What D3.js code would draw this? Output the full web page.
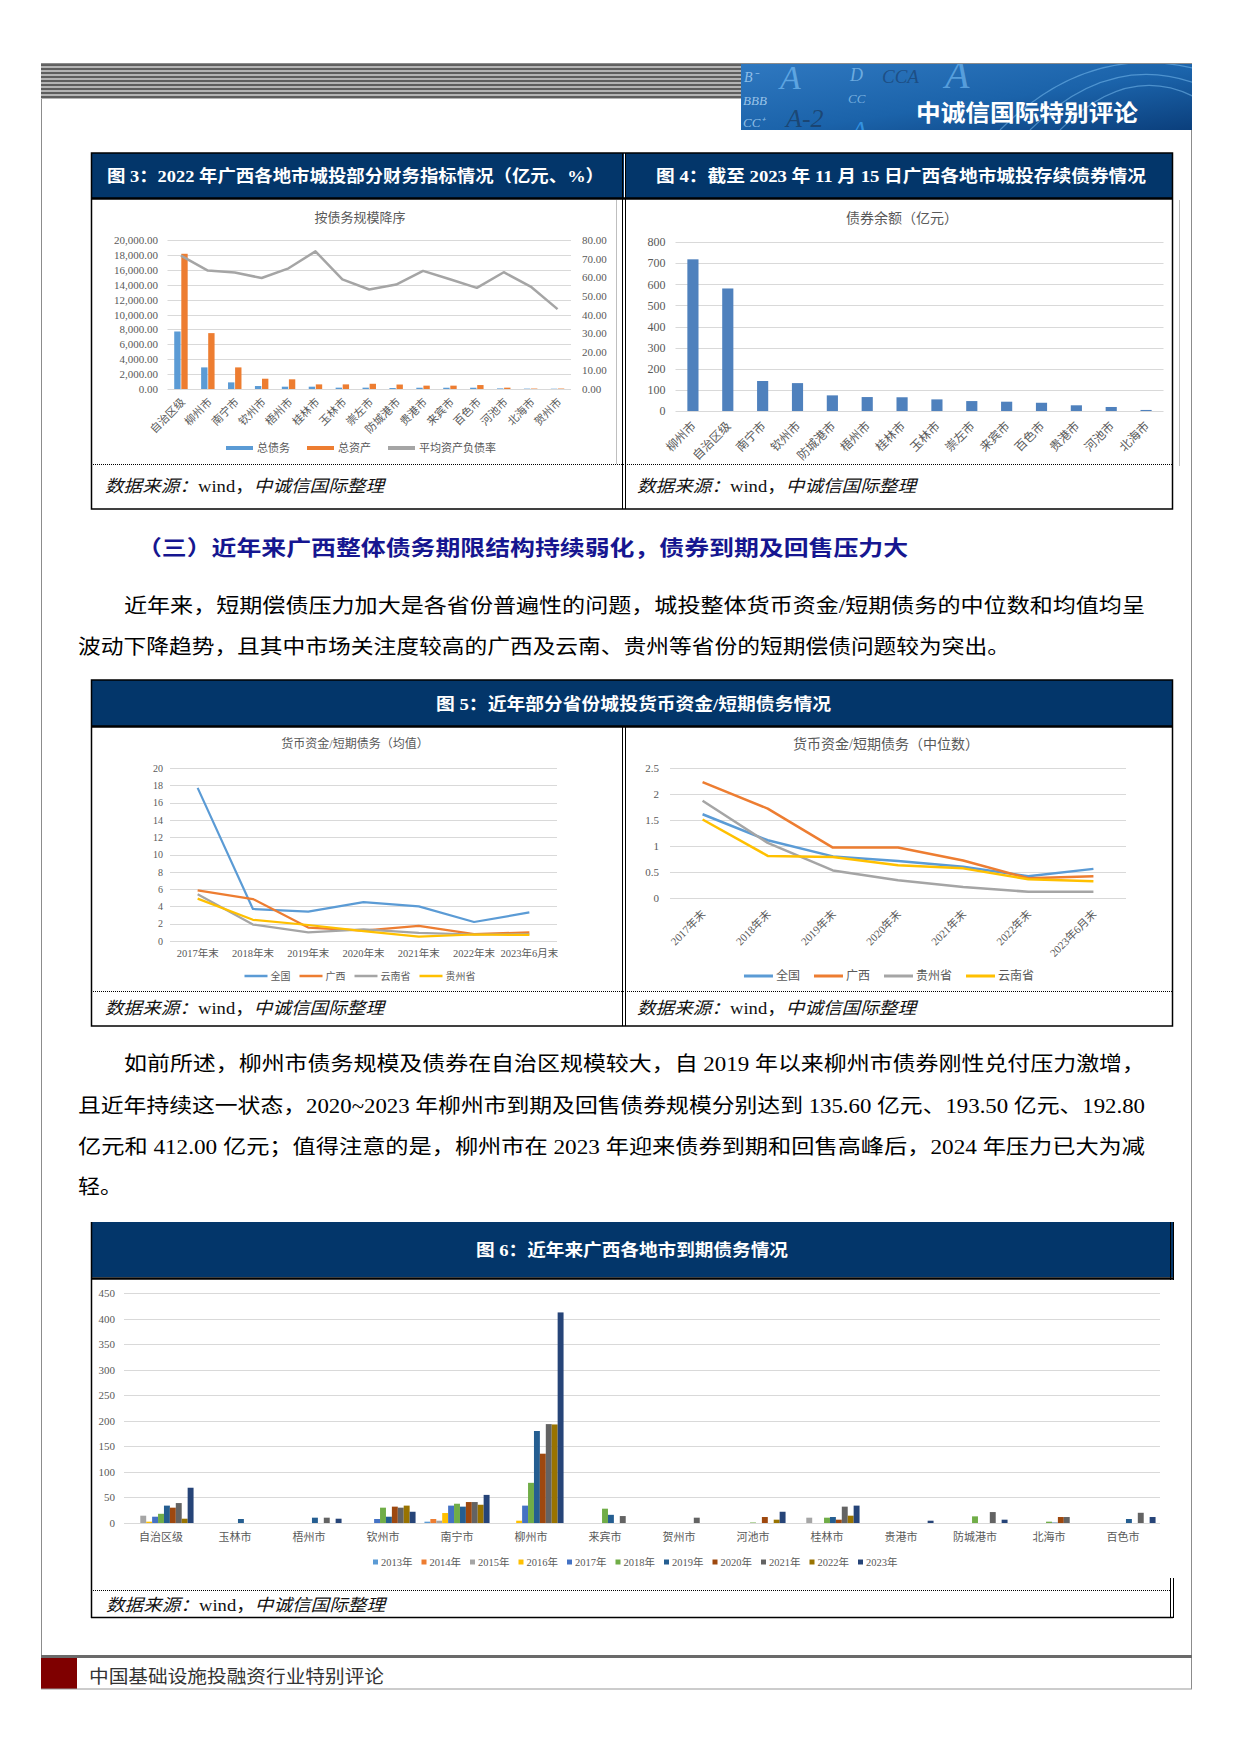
<!DOCTYPE html>
<html><head><meta charset="utf-8">
<script src="https://cdn.jsdelivr.net/npm/d3@7"></script>
<style>html,body{margin:0;padding:0;background:#fff}svg{display:block}</style>
</head><body>
<svg id="page" width="1240" height="1754" xmlns="http://www.w3.org/2000/svg"></svg>
<script>
// ---------------- DATA ----------------
// Fig 3: 2022 financial indicators by city (亿元, %)
const fig3Cities = ['自治区级','柳州市','南宁市','钦州市','梧州市','桂林市','玉林市','崇左市','防城港市','贵港市','来宾市','百色市','河池市','北海市','贺州市'];
const fig3Debt   = [7720, 2900, 890, 400, 310, 310, 180, 180, 130, 170, 170, 170, 80, 50, 40];
const fig3Assets = [18150, 7500, 2900, 1380, 1300, 620, 620, 700, 600, 450, 450, 530, 180, 60, 60];
const fig3Ratio  = [71.6, 63.6, 62.5, 59.6, 64.8, 73.9, 58.9, 53.4, 56.1, 63.4, 58.9, 54.3, 62.7, 55.0, 42.9];
const fig3LeftTicks  = [0,2000,4000,6000,8000,10000,12000,14000,16000,18000,20000];
const fig3RightTicks = [0,10,20,30,40,50,60,70,80];
const fig3Legend = ['总债务','总资产','平均资产负债率'];

// Fig 4: outstanding bonds (亿元)
const fig4Cities = ['柳州市','自治区级','南宁市','钦州市','防城港市','梧州市','桂林市','玉林市','崇左市','来宾市','百色市','贵港市','河池市','北海市'];
const fig4Bonds  = [718, 580, 142, 132, 74, 66, 65, 55, 47, 44, 39, 27, 19, 5];
const fig4Ticks  = [0,100,200,300,400,500,600,700,800];

// Fig 5: cash / short-term debt
const fig5Periods = ['2017年末','2018年末','2019年末','2020年末','2021年末','2022年末','2023年6月末'];
const meanNational = [17.7, 3.7, 3.4, 4.5, 4.0, 2.2, 3.3];
const meanGuangxi  = [5.85, 4.85, 1.55, 1.2, 1.75, 0.8, 1.0];
const meanYunnan   = [5.4, 1.9, 1.0, 1.35, 0.95, 0.75, 0.8];
const meanGuizhou  = [4.9, 2.45, 1.85, 1.15, 0.5, 0.75, 0.7];
const meanTicks = [0,2,4,6,8,10,12,14,16,18,20];
const medianNational = [1.61, 1.11, 0.80, 0.71, 0.60, 0.42, 0.56];
const medianGuangxi  = [2.23, 1.72, 0.97, 0.97, 0.72, 0.38, 0.42];
const medianGuizhou  = [1.87, 1.06, 0.53, 0.34, 0.21, 0.12, 0.12];
const medianYunnan   = [1.51, 0.81, 0.79, 0.63, 0.57, 0.36, 0.32];
const medianTicks = [0,0.5,1,1.5,2,2.5];

// Fig 6: maturing debt by city and year (亿元)
const fig6Cities = ['自治区级','玉林市','梧州市','钦州市','南宁市','柳州市','来宾市','贺州市','河池市','桂林市','贵港市','防城港市','北海市','百色市'];
const fig6Years  = ['2013年','2014年','2015年','2016年','2017年','2018年','2019年','2020年','2021年','2022年','2023年'];
const due2013 = [0, 0, 0, 0, 2.6, 0, 0, 0, 0, 0, 0, 0, 0, 0];
const due2014 = [0, 0, 0, 0, 7.8, 0, 0, 0, 0, 0, 0, 0, 0, 0];
const due2015 = [14.3, 0, 0, 0, 4.5, 0, 0, 0, 0, 10.4, 0, 0, 0, 0];
const due2016 = [2.6, 0, 0, 0, 19.5, 4.5, 0, 0, 0, 0, 0, 0, 0, 0];
const due2017 = [12.3, 0, 0, 7.8, 34, 34, 0, 0, 0, 0, 0, 0, 0, 0];
const due2018 = [18, 0, 0, 30, 37.7, 78.6, 28, 0, 1, 10.4, 0, 13, 2.6, 0];
const due2019 = [34, 7.8, 10.4, 12.3, 32, 180, 16, 0, 0, 11.7, 0, 0, 0.8, 7.8];
const due2020 = [30, 0, 0, 32, 41, 135.6, 0, 0, 11.7, 6.5, 0, 0, 11.7, 0];
const due2021 = [39, 0, 10.4, 30, 41, 193.5, 13.6, 10.4, 0, 32, 0, 21.4, 11.7, 20];
const due2022 = [8.4, 0, 0, 34, 35.7, 192.8, 0, 0, 6.5, 14.3, 0, 0, 0, 0];
const due2023 = [69, 0, 8.4, 22, 55, 412, 0, 0, 22, 34, 4.5, 6.5, 0, 11.7];
const fig6Ticks = [0,50,100,150,200,250,300,350,400,450];

// ---------------- STYLE ----------------
const NAVY = '#03366a';
const SERIF = "'Liberation Serif','Noto Sans CJK SC',serif";
const SANS = "'Noto Sans CJK SC','Liberation Sans',sans-serif";
const LABEL = '#595959';
const GRID = '#d9d9d9';
const C = {blue:'#5b9bd5', orange:'#ed7d31', gray:'#a5a5a5', yellow:'#ffc000'};
const fig6Colors = ['#5b9bd5','#ed7d31','#a5a5a5','#ffc000','#4472c4','#70ad47','#255e91','#9e480e','#636363','#997300','#264478'];

const svg = d3.select('#page');
const defs = svg.append('defs');

// ---------------- PAGE FRAME & HEADER ----------------
const frame = svg.append('g');
frame.append('line').attr('x1',41.5).attr('x2',41.5).attr('y1',64).attr('y2',1689).attr('stroke','#8c8c8c');
frame.append('line').attr('x1',1191.5).attr('x2',1191.5).attr('y1',64).attr('y2',1689).attr('stroke','#8c8c8c');
frame.append('rect').attr('x',41).attr('y',64).attr('width',700).attr('height',35).attr('fill','#b4b4b4');
frame.selectAll('rect.stripe').data(d3.range(64, 99, 4)).join('rect')
  .attr('x',41).attr('y',d=>d).attr('width',700).attr('height',2).attr('fill','#5e5e5e');
frame.append('line').attr('x1',41).attr('x2',1192).attr('y1',64).attr('y2',64).attr('stroke','#666').attr('stroke-width',1.5);

const hg = defs.append('linearGradient').attr('id','hg').attr('x1','0').attr('y1','0').attr('x2','1').attr('y2','1');
hg.append('stop').attr('offset','0').attr('stop-color','#2f78c0');
hg.append('stop').attr('offset','0.55').attr('stop-color','#1b63aa');
hg.append('stop').attr('offset','1').attr('stop-color','#0b3f7c');
defs.append('clipPath').attr('id','hclip').append('rect').attr('x',741).attr('y',64).attr('width',451).attr('height',66);
const hdr = svg.append('g').attr('clip-path','url(#hclip)');
hdr.append('rect').attr('x',741).attr('y',64).attr('width',451).attr('height',66).attr('fill','url(#hg)');
hdr.selectAll('path.arc').data([0,1,2]).join('path')
  .attr('d',d=>`M ${1000+d*30} 130 Q ${1090+d*20} ${40+d*10} ${1200} ${70+d*15}`)
  .attr('fill','none').attr('stroke','#8fd0ff').attr('stroke-opacity',0.45).attr('stroke-width',1.2);
const hdrGlyphs = [
  {t:'B⁻', x:744, y:82, s:14, c:'#a9d3f5', o:0.8},
  {t:'A', x:780, y:89, s:34, c:'#6fb6ef', o:0.75},
  {t:'D', x:850, y:81, s:18, c:'#8cc6f2', o:0.7},
  {t:'CCA', x:882, y:83, s:19, c:'#17355c', o:0.55},
  {t:'A', x:945, y:88, s:40, c:'#6fb6ef', o:0.7},
  {t:'BBB', x:743, y:105, s:13, c:'#b9dcf7', o:0.8},
  {t:'CC', x:848, y:103, s:13, c:'#9ccdf3', o:0.7},
  {t:'A-2', x:786, y:127, s:26, c:'#1a2c44', o:0.55},
  {t:'CC⁺', x:743, y:127, s:13, c:'#a9d3f5', o:0.8},
  {t:'A', x:852, y:137, s:24, c:'#3aa0f0', o:0.8}
];
hdr.selectAll('text.g').data(hdrGlyphs).join('text')
  .attr('x',d=>d.x).attr('y',d=>d.y).text(d=>d.t)
  .attr('font-family',SERIF).attr('font-style','italic').attr('font-size',d=>d.s)
  .attr('fill',d=>d.c).attr('fill-opacity',d=>d.o);
hdr.append('text').attr('x',916).attr('y',121).text('中诚信国际特别评论')
  .attr('font-family',SANS).attr('font-weight',700).attr('font-size',23).attr('fill','#fff')
  .attr('textLength',222).attr('lengthAdjust','spacingAndGlyphs');

// ---------------- HELPERS ----------------
function titleBar(x, y, w, h, text, tx, tl) {
  svg.append('rect').attr('x',x).attr('y',y).attr('width',w).attr('height',h).attr('fill',NAVY);
  svg.append('text').attr('x',tx).attr('y',y+h/2+1).text(text)
    .attr('dominant-baseline','central').attr('font-family',SERIF).attr('font-weight',700)
    .attr('font-size',17).attr('fill','#fff').attr('textLength',tl).attr('lengthAdjust','spacingAndGlyphs');
}
function sourceText(x, y) {
  const t = svg.append('text').attr('x',x).attr('y',y).attr('dominant-baseline','central')
    .attr('font-family',SERIF).attr('font-size',17).attr('fill','#111')
    .attr('textLength',279).attr('lengthAdjust','spacingAndGlyphs');
  t.append('tspan').attr('font-style','italic').text('数据来源：');
  t.append('tspan').text('wind，');
  t.append('tspan').attr('font-style','italic').text('中诚信国际整理');
}
function hline(x1, x2, y, opts={}) {
  return svg.append('line').attr('x1',x1).attr('x2',x2).attr('y1',y).attr('y2',y)
    .attr('stroke',opts.c||'#000').attr('stroke-width',opts.w||1).attr('stroke-dasharray',opts.d||null);
}
function vline(x, y1, y2, opts={}) {
  return svg.append('line').attr('x1',x).attr('x2',x).attr('y1',y1).attr('y2',y2)
    .attr('stroke',opts.c||'#000').attr('stroke-width',opts.w||1);
}
function grid(g, y, ticks, x0, x1) {
  g.append('g').selectAll('line').data(ticks).join('line')
    .attr('x1',x0).attr('x2',x1).attr('y1',d=>Math.round(y(d))+0.5).attr('y2',d=>Math.round(y(d))+0.5)
    .attr('stroke',GRID).attr('stroke-width',1);
}
function yAxis(g, y, ticks, x, pad, size, fmt, right) {
  const ax = (right ? d3.axisRight(y) : d3.axisLeft(y)).tickValues(ticks).tickSize(0).tickPadding(pad).tickFormat(fmt);
  const a = g.append('g').attr('transform',`translate(${x},0)`).call(ax);
  a.select('.domain').remove();
  a.selectAll('text').attr('font-family',SERIF).attr('font-size',size).attr('fill',LABEL);
}
function chartTitle(g, x, y, text, size) {
  g.append('text').attr('x',x).attr('y',y).text(text).attr('text-anchor','middle')
    .attr('dominant-baseline','central').attr('font-family',SERIF).attr('font-size',size).attr('fill',LABEL);
}
function rotatedLabels(g, cats, xpos, y, size) {
  g.append('g').selectAll('text').data(cats).join('text')
    .attr('transform',d=>`translate(${xpos(d)},${y}) rotate(-45)`)
    .attr('text-anchor','end').attr('dominant-baseline','central')
    .attr('font-family',SERIF).attr('font-size',size).attr('fill',LABEL).text(d=>d);
}
function legend(g, items, cx, y, o) {
  const lg = g.append('g');
  let x = 0;
  items.forEach(it => {
    if (it.kind === 'square') {
      lg.append('rect').attr('x',x).attr('y',y-o.sw/2).attr('width',o.sw).attr('height',o.sw).attr('fill',it.color);
    } else {
      lg.append('rect').attr('x',x).attr('y',y-o.th/2).attr('width',o.sw).attr('height',o.th).attr('fill',it.color);
    }
    x += o.sw + o.gap;
    const t = lg.append('text').attr('x',x).attr('y',y).text(it.name).attr('dominant-baseline','central')
      .attr('font-family',SERIF).attr('font-size',o.fs).attr('fill',LABEL);
    x += t.node().getComputedTextLength() + o.after;
  });
  const total = x - o.after;
  lg.attr('transform',`translate(${cx - total/2},0)`);
}

// ---------------- FIG 3 / FIG 4 BOX ----------------
titleBar(91, 153, 533, 45, '图 3：2022 年广西各地市城投部分财务指标情况（亿元、%）', 107, 497);
titleBar(626, 153, 547, 45, '图 4：截至 2023 年 11 月 15 日广西各地市城投存续债券情况', 656, 490);
hline(91, 1173, 198.5, {w:2.5});
svg.append('rect').attr('x',91.5).attr('y',153).attr('width',1081).attr('height',356).attr('fill','none').attr('stroke','#000').attr('stroke-width',1.5);
vline(622.5, 153, 509); vline(625.5, 153, 509);
vline(616.5, 200, 464, {c:'#bfbfbf'});
vline(1179.5, 200, 466, {c:'#bfbfbf'});
hline(91, 1173, 464.5, {d:'1,1'});
sourceText(105, 486);
sourceText(637, 486);

// Fig 3 chart
{
  const g = svg.append('g');
  const X0 = 167.5, X1 = 571, Y0 = 389, Y1 = 240;
  const x = d3.scaleBand().domain(fig3Cities).range([X0,X1]).paddingInner(0.5).paddingOuter(0.25);
  const xi = d3.scaleBand().domain(['debt','assets']).range([0,x.bandwidth()]).paddingInner(0.1);
  const y = d3.scaleLinear().domain([0,20000]).range([Y0,Y1]);
  const yr = d3.scaleLinear().domain([0,80]).range([Y0,Y1]);
  chartTitle(g, 360, 217, '按债务规模降序', 13);
  grid(g, y, fig3LeftTicks, X0, X1);
  yAxis(g, y, fig3LeftTicks, X0, 9.5, 11, d3.format(',.2f'), false);
  yAxis(g, yr, fig3RightTicks, X1, 11, 11, d3.format('.2f'), true);
  const rows = fig3Cities.map((c,i)=>({c, debt:fig3Debt[i], assets:fig3Assets[i], ratio:fig3Ratio[i]}));
  [['debt',C.blue],['assets',C.orange]].forEach(([k,col]) => {
    g.append('g').selectAll('rect').data(rows).join('rect')
      .attr('x',d=>x(d.c)+xi(k)).attr('width',xi.bandwidth())
      .attr('y',d=>y(d[k])).attr('height',d=>Y0-y(d[k])).attr('fill',col);
  });
  g.append('path').datum(rows)
    .attr('d', d3.line().x(d=>x(d.c)+x.bandwidth()/2).y(d=>yr(d.ratio)))
    .attr('fill','none').attr('stroke',C.gray).attr('stroke-width',2.5).attr('stroke-linejoin','round');
  rotatedLabels(g, fig3Cities, d=>x(d)+x.bandwidth()/2+2, 400, 11);
  legend(g, [{name:fig3Legend[0],color:C.blue},{name:fig3Legend[1],color:C.orange},{name:fig3Legend[2],color:C.gray}],
    361, 448, {sw:27, th:4, gap:4, after:17, fs:11});
}

// Fig 4 chart
{
  const g = svg.append('g');
  const X0 = 675.5, X1 = 1163.5, Y0 = 411, Y1 = 242;
  const x = d3.scaleBand().domain(fig4Cities).range([X0,X1]).paddingInner(0.68).paddingOuter(0.34);
  const y = d3.scaleLinear().domain([0,800]).range([Y0,Y1]);
  chartTitle(g, 902, 218, '债券余额（亿元）', 14);
  grid(g, y, fig4Ticks, X0, X1);
  yAxis(g, y, fig4Ticks, X0, 10, 12, d=>String(d), false);
  g.append('g').selectAll('rect').data(fig4Cities.map((c,i)=>({c, v:fig4Bonds[i]}))).join('rect')
    .attr('x',d=>x(d.c)).attr('width',x.bandwidth()).attr('y',d=>y(d.v)).attr('height',d=>Y0-y(d.v))
    .attr('fill','#4f81bd');
  rotatedLabels(g, fig4Cities, d=>x(d)+x.bandwidth()/2+1, 424, 12);
}

// ---------------- SECTION TEXT ----------------
function bodyLine(text, x, y, len, opts={}) {
  svg.append('text').attr('x',x).attr('y',y).text(text).attr('dominant-baseline','central')
    .attr('font-family',SERIF).attr('font-size',opts.fs||20).attr('font-weight',opts.fw||400)
    .attr('fill',opts.c||'#000').attr('textLength',len).attr('lengthAdjust','spacingAndGlyphs');
}
bodyLine('（三）近年来广西整体债务期限结构持续弱化，债券到期及回售压力大', 137, 548, 771, {fs:21, fw:700, c:'#161690'});
bodyLine('近年来，短期偿债压力加大是各省份普遍性的问题，城投整体货币资金/短期债务的中位数和均值均呈', 124, 606, 1021);
bodyLine('波动下降趋势，且其中市场关注度较高的广西及云南、贵州等省份的短期偿债问题较为突出。', 78, 647, 932);

// ---------------- FIG 5 BOX ----------------
titleBar(91, 680, 1082, 46, '图 5：近年部分省份城投货币资金/短期债务情况', 436, 395);
hline(91, 1173, 726.5, {w:2.5});
svg.append('rect').attr('x',91.5).attr('y',680).attr('width',1081).attr('height',346).attr('fill','none').attr('stroke','#000').attr('stroke-width',1.5);
vline(622.5, 727, 1026); vline(625.5, 727, 1026);
hline(91, 1173, 991.5, {d:'1,1'});
sourceText(105, 1008);
sourceText(637, 1008);

// Fig 5 left: mean
{
  const g = svg.append('g');
  const X0 = 170, X1 = 557, Y0 = 941, Y1 = 768;
  const x = d3.scalePoint().domain(fig5Periods).range([X0,X1]).padding(0.5);
  const y = d3.scaleLinear().domain([0,20]).range([Y0,Y1]);
  chartTitle(g, 355, 744, '货币资金/短期债务（均值）', 12);
  grid(g, y, meanTicks, X0, X1);
  yAxis(g, y, meanTicks, X0, 7, 10, d=>String(d), false);
  const series = [
    {name:'全国', v:meanNational, color:C.blue},
    {name:'广西', v:meanGuangxi, color:C.orange},
    {name:'云南省', v:meanYunnan, color:C.gray},
    {name:'贵州省', v:meanGuizhou, color:C.yellow}
  ];
  series.forEach(s => {
    g.append('path').datum(s.v)
      .attr('d', d3.line().x((d,i)=>x(fig5Periods[i])).y(d=>y(d)))
      .attr('fill','none').attr('stroke',s.color).attr('stroke-width',2.2).attr('stroke-linejoin','round');
  });
  g.append('g').selectAll('text').data(fig5Periods).join('text')
    .attr('x',d=>x(d)).attr('y',953).attr('text-anchor','middle').attr('dominant-baseline','central')
    .attr('font-family',SERIF).attr('font-size',10.5).attr('fill',LABEL).text(d=>d);
  legend(g, series, 360, 976, {sw:23, th:2.5, gap:3, after:9, fs:10});
}

// Fig 5 right: median
{
  const g = svg.append('g');
  const X0 = 670, X1 = 1126, Y0 = 898, Y1 = 768;
  const x = d3.scalePoint().domain(fig5Periods).range([X0,X1]).padding(0.5);
  const y = d3.scaleLinear().domain([0,2.5]).range([Y0,Y1]);
  chartTitle(g, 886, 744, '货币资金/短期债务（中位数）', 14);
  grid(g, y, medianTicks, X0, X1);
  yAxis(g, y, medianTicks, X0, 11, 11, d=>String(d), false);
  const series = [
    {name:'全国', v:medianNational, color:C.blue},
    {name:'广西', v:medianGuangxi, color:C.orange},
    {name:'贵州省', v:medianGuizhou, color:C.gray},
    {name:'云南省', v:medianYunnan, color:C.yellow}
  ];
  series.forEach(s => {
    g.append('path').datum(s.v)
      .attr('d', d3.line().x((d,i)=>x(fig5Periods[i])).y(d=>y(d)))
      .attr('fill','none').attr('stroke',s.color).attr('stroke-width',2.5).attr('stroke-linejoin','round');
  });
  rotatedLabels(g, fig5Periods, d=>x(d)+1, 912, 11);
  legend(g, series, 889, 976, {sw:29, th:3, gap:3, after:14, fs:12});
}

// ---------------- SECOND PARAGRAPH ----------------
bodyLine('如前所述，柳州市债务规模及债券在自治区规模较大，自 2019 年以来柳州市债券刚性兑付压力激增，', 124, 1064, 1021);
bodyLine('且近年持续这一状态，2020~2023 年柳州市到期及回售债券规模分别达到 135.60 亿元、193.50 亿元、192.80', 78, 1106, 1067);
bodyLine('亿元和 412.00 亿元；值得注意的是，柳州市在 2023 年迎来债券到期和回售高峰后，2024 年压力已大为减', 78, 1147, 1067);
bodyLine('轻。', 78, 1187, 44);

// ---------------- FIG 6 BOX ----------------
titleBar(91, 1222, 1082, 55, '图 6：近年来广西各地市到期债务情况', 476, 312);
hline(91, 1173, 1278.5, {w:2.5});
vline(91.5, 1222, 1618, {w:1.5});
hline(91, 1173, 1617.5, {w:1.5});
vline(1170.5, 1222, 1280); vline(1173.5, 1222, 1280);
vline(1170.5, 1578, 1618); vline(1173.5, 1578, 1618);
hline(91, 1171, 1590.5, {d:'1,1'});
{
  const t = svg.append('text').attr('x',106).attr('y',1605).attr('dominant-baseline','central')
    .attr('font-family',SERIF).attr('font-size',17).attr('fill','#111')
    .attr('textLength',279).attr('lengthAdjust','spacingAndGlyphs');
  t.append('tspan').attr('font-style','italic').text('数据来源：');
  t.append('tspan').text('wind，');
  t.append('tspan').attr('font-style','italic').text('中诚信国际整理');
}

// Fig 6 chart
{
  const g = svg.append('g');
  const X0 = 124, X1 = 1160, Y0 = 1523, Y1 = 1293;
  const x = d3.scaleBand().domain(fig6Cities).range([X0,X1]).paddingInner(0.12).paddingOuter(0.06);
  const xi = d3.scaleBand().domain(fig6Years).range([0,x.bandwidth()]);
  const y = d3.scaleLinear().domain([0,450]).range([Y0,Y1]);
  const fig6Series = [due2013,due2014,due2015,due2016,due2017,due2018,due2019,due2020,due2021,due2022,due2023];
  grid(g, y, fig6Ticks, X0, X1);
  yAxis(g, y, fig6Ticks, X0, 9, 11, d=>String(d), false);
  fig6Series.forEach((vals, si) => {
    const yr = fig6Years[si];
    g.append('g').selectAll('rect').data(vals.map((v,i)=>({c:fig6Cities[i], v})).filter(d=>d.v>0)).join('rect')
      .attr('x',d=>x(d.c)+xi(yr)).attr('width',xi.bandwidth())
      .attr('y',d=>y(d.v)).attr('height',d=>Y0-y(d.v)).attr('fill',fig6Colors[si]);
  });
  g.append('g').selectAll('text').data(fig6Cities).join('text')
    .attr('x',d=>x(d)+x.bandwidth()/2).attr('y',1537).attr('text-anchor','middle').attr('dominant-baseline','central')
    .attr('font-family',SERIF).attr('font-size',11).attr('fill',LABEL).text(d=>d);
  const lx = d3.scalePoint().domain(fig6Years).range([373, 858]);
  const lg = g.append('g');
  lg.selectAll('rect').data(fig6Years).join('rect')
    .attr('x',d=>lx(d)).attr('y',1559.5).attr('width',5).attr('height',5).attr('fill',(d,i)=>fig6Colors[i]);
  lg.selectAll('text').data(fig6Years).join('text')
    .attr('x',d=>lx(d)+8).attr('y',1562).attr('dominant-baseline','central')
    .attr('font-family',SERIF).attr('font-size',10.5).attr('fill',LABEL).text(d=>d);
}

// ---------------- FOOTER ----------------
hline(41, 1192, 1656.5, {w:3, c:'#6a6a6a'});
svg.append('rect').attr('x',41).attr('y',1658).attr('width',36).attr('height',31).attr('fill','#7f0000');
hline(41, 1192, 1689, {w:1, c:'#999'});
svg.append('text').attr('x',89).attr('y',1677).attr('dominant-baseline','central').text('中国基础设施投融资行业特别评论')
  .attr('font-family',SERIF).attr('font-size',18).attr('fill','#333').attr('textLength',295).attr('lengthAdjust','spacingAndGlyphs');
</script>
</body></html>
